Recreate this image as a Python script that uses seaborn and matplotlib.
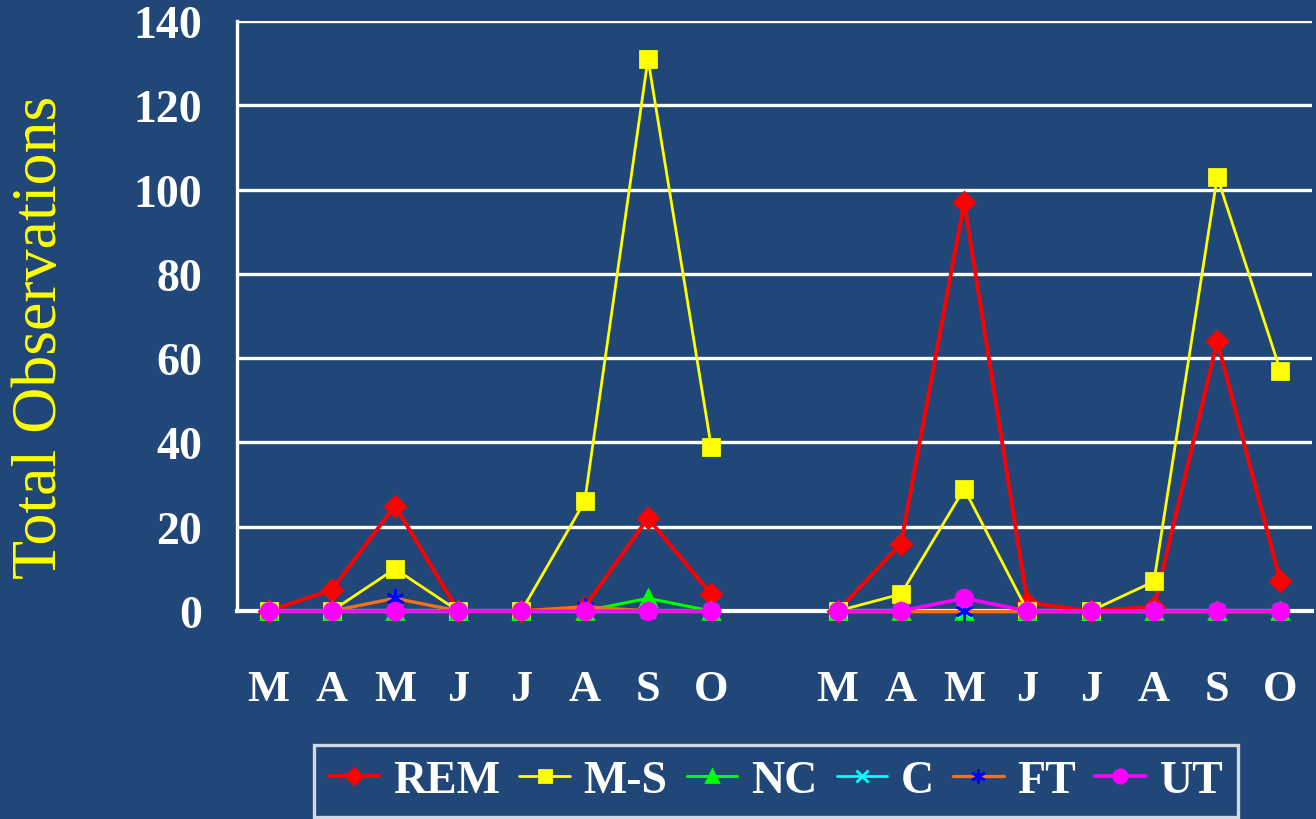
import numpy as np
import pandas as pd
import matplotlib
matplotlib.use("Agg")
import matplotlib.pyplot as plt
from matplotlib.lines import Line2D
import seaborn as sns

# Month labels for the two seasons (a blank slot separates them)
months = ["M", "A", "M", "J", "J", "A", "S", "O"]

# Observations per month, first season then second season
rem_1 = [0, 5, 25, 0, 0, 1, 22, 4]
rem_2 = [0, 16, 97, 2, 0, 1, 64, 7]
ms_1 = [0, 0, 10, 0, 0, 26, 131, 39]
ms_2 = [0, 4, 29, 0, 0, 7, 103, 57]
nc_1 = [0, 0, 0, 0, 0, 0, 3, 0]
nc_2 = [0, 0, 0, 0, 0, 0, 0, 0]
c_1 = [0, 0, 0, 0, 0, 0, 0, 0]
c_2 = [0, 0, 0, 0, 0, 0, 0, 0]
ft_1 = [0, 0, 3, 0, 0, 1, 0, 0]
ft_2 = [0, 0, 0, 0, 0, 0, 0, 0]
ut_1 = [0, 0, 0, 0, 0, 0, 0, 0]
ut_2 = [0, 0, 3, 0, 0, 0, 0, 0]

series_names = ["REM", "M-S", "NC", "C", "FT", "UT"]

BG = "#214678"
WHITE = "#FFFFFF"

sns.set_theme(style="white")
plt.rcParams["font.family"] = ["Liberation Serif", "DejaVu Serif"]

fig = plt.figure(figsize=(13.16, 8.2), dpi=100, facecolor=BG)
ax = fig.add_axes([0.180, 0.2537, 0.817, 0.7195])
ax.set_facecolor(BG)

pos_1 = np.arange(0, 8)
pos_2 = np.arange(9, 17)

styles = {
    "REM": dict(color="#FF0000", marker="D", mfc="#FF0000", mec="#FF0000", ms=10),
    "M-S": dict(color="#FFFF00", marker="s", mfc="#FFFF00", mec="#FFFF00", ms=11),
    "NC": dict(color="#00FF00", marker="^", mfc="#00FF00", mec="#00FF00", ms=11),
    "C": dict(color="#00FFFF", marker="x", mfc="#00FFFF", mec="#00FFFF", ms=10),
    "FT": dict(color="#F07020", marker=(6, 2, 0), mfc="#0000FF", mec="#0000FF", ms=13),
    "UT": dict(color="#FF00FF", marker="o", mfc="#FF00FF", mec="#FF00FF", ms=12),
}
values = {
    "REM": (rem_1, rem_2),
    "M-S": (ms_1, ms_2),
    "NC": (nc_1, nc_2),
    "C": (c_1, c_2),
    "FT": (ft_1, ft_2),
    "UT": (ut_1, ut_2),
}
widths = {"REM": 2.8, "M-S": 2.0, "NC": 2.2, "C": 2.0, "FT": 2.4, "UT": 2.6}

for z, name in enumerate(series_names):
    st = styles[name]
    for pos, vals in zip((pos_1, pos_2), values[name]):
        df = pd.DataFrame({"pos": pos, "val": vals})
        sns.lineplot(
            data=df, x="pos", y="val", ax=ax, color=st["color"],
            marker=st["marker"], markerfacecolor=st["mfc"],
            markeredgecolor=st["mec"], markersize=st["ms"],
            markeredgewidth=2.0, linewidth=widths[name],
            estimator=None, legend=False, zorder=3 + z, clip_on=False,
        )

# Axes, grid and ticks
ax.set_xlim(-0.5, 16.5)
ax.set_ylim(0, 140)
ax.set_yticks(np.arange(0, 141, 20))
ax.yaxis.grid(True, color=WHITE, linewidth=2.4)
ax.set_axisbelow(True)

ax.set_xticks(list(pos_1) + list(pos_2))
ax.set_xticklabels(months + months)
ax.set_xticks(np.arange(-0.5, 17.0, 1.0), minor=True)
ax.tick_params(axis="x", which="major", length=0, pad=42,
               labelsize=32, labelcolor=WHITE)
ax.tick_params(axis="x", which="minor", length=11, width=2.2,
               color=WHITE, direction="out")
ax.tick_params(axis="y", which="major", length=11, width=2.2, color=WHITE,
               direction="out", pad=14, labelsize=33, labelcolor=WHITE)
for lab in ax.get_xticklabels() + ax.get_yticklabels():
    lab.set_fontweight("bold")

for side in ("top", "right"):
    ax.spines[side].set_visible(False)
ax.spines["left"].set_color(WHITE)
ax.spines["left"].set_linewidth(2.4)
ax.spines["bottom"].set_color(WHITE)
ax.spines["bottom"].set_linewidth(3.0)

ax.set_xlabel("")
ax.set_ylabel("")
fig.text(0.031, 0.588, "Total Observations", rotation=90, color="#FFFF00",
         fontsize=46, ha="center", va="center")

# Legend
handles = []
for name in series_names:
    st = styles[name]
    handles.append(Line2D([], [], color=st["color"], marker=st["marker"],
                          markerfacecolor=st["mfc"], markeredgecolor=st["mec"],
                          markersize=st["ms"] * 0.8, markeredgewidth=2.0,
                          linewidth=widths[name]))
leg = fig.legend(handles, series_names, loc="center",
                 bbox_to_anchor=(0.5897, 0.0465), ncol=6, frameon=True,
                 fancybox=False, handlelength=1.1, handletextpad=0.3,
                 columnspacing=0.42, borderpad=0.32, borderaxespad=0,
                 prop={"family": "Liberation Serif", "weight": "bold", "size": 33})
leg.get_frame().set_facecolor(BG)
leg.get_frame().set_edgecolor(WHITE)
leg.get_frame().set_linewidth(2.4)
for t in leg.get_texts():
    t.set_color(WHITE)

fig.savefig("out.png", dpi=100, facecolor=BG)
